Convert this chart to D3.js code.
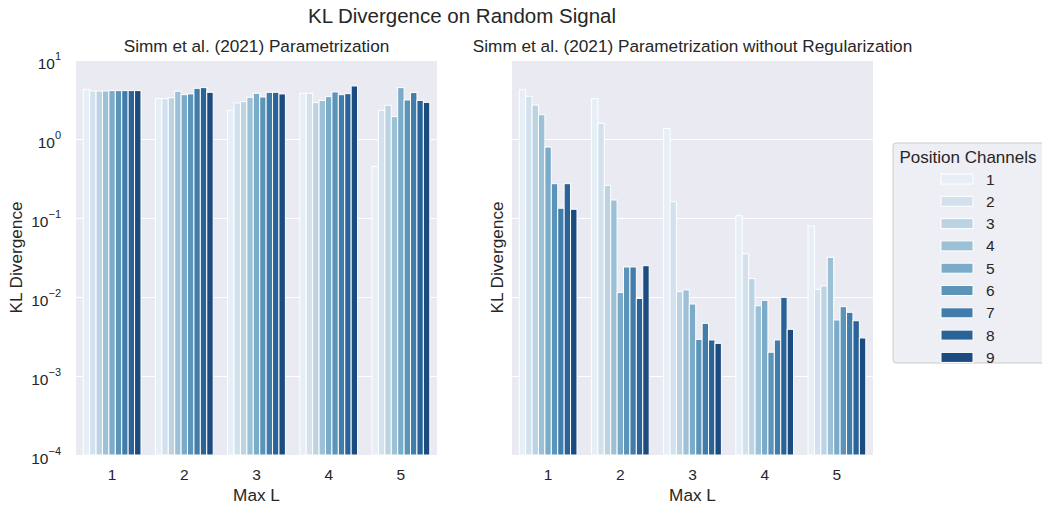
<!DOCTYPE html>
<html><head><meta charset="utf-8">
<script src="https://cdn.jsdelivr.net/npm/d3@7"></script>
<style>
html,body{margin:0;padding:0;background:#fff;}
svg{display:block;font-family:"Liberation Sans",Arial,Helvetica,sans-serif;}
</style></head>
<body>
<svg id="chart" width="1042" height="506"></svg>
<script>
// ---- data ----
const maxL = [1, 2, 3, 4, 5];
const channels = [1, 2, 3, 4, 5, 6, 7, 8, 9];
// KL divergence per Max L (rows) and position channels (columns)
const withReg = [
  [4.25, 4.05, 4.05, 4.05, 4.1, 4.1, 4.1, 4.1, 4.1],
  [3.24, 3.24, 3.33, 4.02, 3.64, 3.72, 4.38, 4.47, 3.90],
  [2.31, 2.86, 2.97, 3.37, 3.79, 3.40, 3.90, 3.90, 3.72],
  [3.79, 3.79, 2.89, 3.08, 3.44, 3.94, 3.64, 3.75, 4.69],
  [0.45, 2.31, 2.67, 1.92, 4.47, 3.12, 3.87, 3.08, 2.91]
];
const withoutReg = [
  [4.2, 3.47, 2.69, 2.03, 0.79, 0.272, 0.133, 0.272, 0.129],
  [3.24, 1.58, 0.259, 0.169, 0.0114, 0.024, 0.024, 0.0096, 0.0249],
  [1.36, 0.161, 0.0117, 0.0123, 0.00815, 0.00291, 0.00464, 0.00286, 0.00259],
  [0.107, 0.0353, 0.0171, 0.00776, 0.00907, 0.0020, 0.00286, 0.0099, 0.0039],
  [0.0792, 0.0125, 0.0138, 0.0318, 0.00512, 0.00755, 0.0064, 0.00501, 0.00303]
];
const yTicks = [1e-4, 1e-3, 1e-2, 1e-1, 1e0, 1e1];
const yTickExp = ["\u22124", "\u22123", "\u22122", "\u22121", "0", "1"];
const titles = ["Simm et al. (2021) Parametrization", "Simm et al. (2021) Parametrization without Regularization"];
const supTitle = "KL Divergence on Random Signal";

// ---- style ----
const txt = "#262626";
const bg = "#EAEAF2";
const colors = channels.map((c, i) => {
  const h = d3.hsl(d3.interpolateBlues((i + 1) / 10));
  h.s *= 0.75;
  return h.formatHex();
});

const svg = d3.select("#chart");
const plotTop = 60, plotBottom = 455;
const y = d3.scaleLog().domain([1e-4, 1e1]).range([plotBottom, plotTop]);

const panels = [
  {x0: 76, x1: 437, data: withReg, title: titles[0], yLabelX: 16, showTicks: true},
  {x0: 512, x1: 873, data: withoutReg, title: titles[1], yLabelX: 497, showTicks: false}
];

svg.append("text").attr("x", 462).attr("y", 23).attr("text-anchor", "middle")
  .attr("font-size", 20.5).attr("fill", txt).text(supTitle);

panels.forEach(p => {
  const g = svg.append("g");
  const w = p.x1 - p.x0;
  const x0 = d3.scaleBand().domain(maxL).range([p.x0, p.x1]).padding(0);
  const x1 = d3.scaleBand().domain(channels).range([x0.bandwidth() * 0.1, x0.bandwidth() * 0.9]).padding(0);

  g.append("rect").attr("x", p.x0).attr("y", plotTop).attr("width", w).attr("height", plotBottom - plotTop).attr("fill", bg);

  // grid
  const yAxis = d3.axisLeft(y).tickValues(yTicks).tickSize(-w).tickFormat("");
  const ga = g.append("g").attr("transform", `translate(${p.x0},0)`).call(yAxis);
  ga.select(".domain").remove();
  ga.selectAll(".tick line").attr("stroke", "#fff").attr("stroke-width", 1.2);
  ga.selectAll(".tick text").remove();

  if (p.showTicks) {
    ga.selectAll(".tick").each(function(d) {
      const t = d3.select(this).append("text").attr("x", -15).attr("y", 8.5)
        .attr("text-anchor", "end").attr("fill", txt).attr("font-size", 15.5);
      t.append("tspan").text("10");
      const idx = yTicks.indexOf(d);
      t.append("tspan").attr("dy", -9.5).attr("font-size", 11).text(yTickExp[idx]);
    });
  }

  // bars
  maxL.forEach((L, li) => {
    g.selectAll(null).data(p.data[li]).enter().append("rect")
      .attr("x", (v, ci) => x0(L) + x1(channels[ci]))
      .attr("width", x1.bandwidth())
      .attr("y", v => y(v))
      .attr("height", v => plotBottom - y(v))
      .attr("fill", (v, ci) => colors[ci])
      .attr("stroke", "#fff").attr("stroke-width", 1);
  });

  // x axis
  const xAxis = d3.axisBottom(x0).tickSize(0).tickPadding(14);
  const gx = g.append("g").attr("transform", `translate(0,${plotBottom})`).call(xAxis);
  gx.select(".domain").remove();
  gx.selectAll(".tick text").attr("font-size", 15.5).attr("fill", txt);
  gx.attr("font-family", null);

  g.append("text").attr("x", (p.x0 + p.x1) / 2).attr("y", 501).attr("text-anchor", "middle")
    .attr("font-size", 17.2).attr("fill", txt).text("Max L");
  g.append("text").attr("transform", `translate(${p.yLabelX + 6},${(plotTop + plotBottom) / 2}) rotate(-90)`)
    .attr("text-anchor", "middle").attr("font-size", 17.2).attr("fill", txt).text("KL Divergence");
  g.append("text").attr("x", (p.x0 + p.x1) / 2).attr("y", 52).attr("text-anchor", "middle")
    .attr("font-size", 17.2).attr("fill", txt).text(p.title);
});

// legend
const lg = svg.append("g");
lg.append("rect").attr("x", 893).attr("y", 143).attr("width", 160).attr("height", 220).attr("rx", 3)
  .attr("fill", "#eeeef5").attr("stroke", "#cccccc").attr("stroke-width", 1);
lg.append("text").attr("x", 968).attr("y", 163).attr("text-anchor", "middle")
  .attr("font-size", 17).attr("fill", txt).text("Position Channels");
channels.forEach((c, i) => {
  const yy = 179 + i * 22.3;
  lg.append("rect").attr("x", 941).attr("y", yy - 5).attr("width", 32).attr("height", 10)
    .attr("fill", colors[i]).attr("stroke", "#fff").attr("stroke-width", 1);
  lg.append("text").attr("x", 986).attr("y", yy + 5.5).attr("font-size", 15.5).attr("fill", txt).text(c);
});
</script>
</body></html>
